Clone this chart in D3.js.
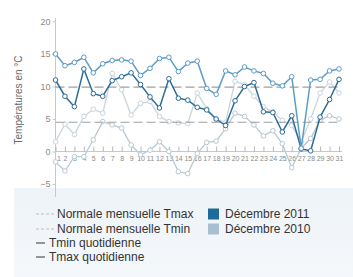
<!DOCTYPE html>
<html lang="fr">
<head>
<meta charset="UTF-8">
<title>Températures décembre</title>
<script src="https://cdn.jsdelivr.net/npm/d3@7"></script>
<style>
  body { margin: 0; background: #fff; }
  text { font-family: "Liberation Sans", Arial, sans-serif; }
</style>
</head>
<body>
<svg width="353" height="277"></svg>
<script>
// jours du mois
var days = d3.range(1, 32);
var yTicks = [-5, 0, 5, 10, 15, 20];

// décembre 2011
var tmax2011 = [15.0, 13.2, 13.7, 14.5, 12.1, 13.5, 14.0, 14.1, 13.9, 11.7, 12.8, 14.3, 14.5, 12.3, 13.6, 13.9,
                9.7, 8.8, 12.4, 11.8, 13.0, 12.4, 12.0, 10.5, 10.1, 11.5, 0.5, 11.0, 11.1, 12.4, 12.7];
var tmin2011 = [11.0, 8.5, 6.9, 12.7, 8.9, 8.5, 10.9, 11.5, 12.1, 10.3, 8.4, 6.7, 11.2, 8.2, 7.9, 6.8,
                6.4, 5.0, 4.0, 7.8, 10.0, 10.6, 6.1, 6.0, 3.0, 5.5, 0.4, 0.1, 5.3, 8.0, 11.1];
// décembre 2010
var tmax2010 = [1.5, 4.2, 2.6, 5.4, 6.5, 5.9, 12.0, 9.5, 5.6, 7.4, 7.7, 5.4, 4.6, 4.4, 4.3, 9.0,
                6.6, 5.0, 4.5, 10.8, 10.3, 8.5, 6.9, 6.1, 4.8, 4.0, 1.5, 5.0, 9.0, 10.7, 9.0];
var tmin2010 = [-1.6, -3.0, -0.8, -0.8, 1.8, 4.6, 4.1, 3.6, 1.0, -0.5, 0.2, 1.5, 0.0, -3.1, -3.4, -0.3,
                1.4, 1.6, 3.5, 5.9, 5.4, 4.1, 2.4, 3.2, 1.2, -2.5, 0.5, 2.0, 4.8, 5.5, 5.0];
// normales mensuelles
var normaleTmax = 9.9;
var normaleTmin = 4.5;

var svg = d3.select('svg');

// fond du bloc légende
var grad = svg.append('defs').append('linearGradient').attr('id', 'fond')
    .attr('x1', 0).attr('y1', 0).attr('x2', 0).attr('y2', 1);
grad.append('stop').attr('offset', '0%').attr('stop-color', '#eef3f7');
grad.append('stop').attr('offset', '100%').attr('stop-color', '#f5f8fb');
svg.append('rect').attr('x', 14).attr('y', 188).attr('width', 339).attr('height', 89)
    .attr('fill', 'url(#fond)');

// échelles
var x = d3.scaleLinear().domain([1, 31]).range([55.5, 339]);
var y = d3.scaleLinear().domain([-5, 20]).range([184, 21.5]);

var g = svg.append('g');

// axe Y
g.append('line').attr('x1', x(1)).attr('x2', x(1))
    .attr('y1', y(20.5)).attr('y2', y(-7))
    .attr('stroke', '#c8c8c8');
var axisY = d3.axisLeft(y).tickValues(yTicks).tickSize(3).tickPadding(2);
var gy = g.append('g').attr('transform', 'translate(' + x(1) + ',0)').call(axisY);
gy.select('.domain').remove();
gy.selectAll('line').attr('stroke', '#c8c8c8');
gy.selectAll('text').attr('fill', '#8a8a8a').style('font-size', '9px');

// axe X sur 0
var axisX = d3.axisBottom(x).tickValues(days).tickSizeInner(-5).tickSizeOuter(0).tickPadding(3);
var gx = g.append('g').attr('transform', 'translate(0,' + y(0) + ')').call(axisX);
gx.select('.domain').attr('stroke', '#c8c8c8').attr('d', 'M' + x(1) + ',0H' + (x(31) + 3));
gx.selectAll('line').attr('stroke', '#b8b8b8');
gx.selectAll('text').attr('fill', '#8a8a8a').style('font-size', '7px')
    .attr('dy', '0.9em').attr('dx', function (d) { return d == 1 ? '3' : '0'; });

// titre Y
svg.append('text')
    .attr('transform', 'translate(22,' + 100 + ') rotate(-90)')
    .attr('text-anchor', 'middle')
    .attr('fill', '#666').style('font-size', '10px')
    .text('Températures en °C');

var line = d3.line().x(function (d, i) { return x(days[i]); }).y(function (d) { return y(d); });

function serie(data, color, w) {
    g.append('path').datum(data).attr('d', line)
        .attr('fill', 'none').attr('stroke', color).attr('stroke-width', w);
    g.selectAll(null).data(data).enter().append('circle')
        .attr('cx', function (d, i) { return x(days[i]); })
        .attr('cy', function (d) { return y(d); })
        .attr('r', 2.3)
        .attr('fill', '#fff').attr('stroke', color).attr('stroke-width', 1);
}

serie(tmax2010, '#c9d5dd', 1.3);
serie(tmin2010, '#b8c9d4', 1.3);

// normales
[normaleTmax, normaleTmin].forEach(function (v) {
    g.append('line').attr('x1', x(1)).attr('x2', x(31))
        .attr('y1', y(v)).attr('y2', y(v))
        .attr('stroke', '#a0a0a0').attr('stroke-width', 1.2)
        .attr('stroke-dasharray', '9,4');
});

serie(tmin2011, '#2c6c99', 1.5);
serie(tmax2011, '#5d9cc6', 1.5);

// légende
var leg = svg.append('g').style('font-size', '12px');
var items = [
    { t: 'Normale mensuelle Tmax', type: 'dash', y: 214 },
    { t: 'Normale mensuelle Tmin', type: 'dash', y: 229 },
    { t: 'Tmin quotidienne', type: 'line', y: 243 },
    { t: 'Tmax quotidienne', type: 'line', y: 257 }
];
items.forEach(function (it) {
    if (it.type == 'dash') {
        leg.append('line').attr('x1', 36).attr('x2', 54).attr('y1', it.y).attr('y2', it.y)
            .attr('stroke', '#bdbdbd').attr('stroke-dasharray', '3,2');
        leg.append('text').attr('x', 57).attr('y', it.y).attr('dy', '0.35em')
            .attr('fill', '#333').text(it.t);
    } else {
        leg.append('line').attr('x1', 36).attr('x2', 45).attr('y1', it.y).attr('y2', it.y)
            .attr('stroke', '#333').attr('stroke-width', 1);
        leg.append('text').attr('x', 49).attr('y', it.y).attr('dy', '0.35em')
            .attr('fill', '#333').text(it.t);
    }
});
var annees = [
    { t: 'Décembre 2011', c: '#1f6a9a', y: 214 },
    { t: 'Décembre 2010', c: '#a7bfcf', y: 229 }
];
annees.forEach(function (a) {
    leg.append('rect').attr('x', 208).attr('y', a.y - 5.5).attr('width', 11).attr('height', 11).attr('fill', a.c);
    leg.append('text').attr('x', 225).attr('y', a.y).attr('dy', '0.35em').attr('fill', '#333').text(a.t);
});
</script>
</body>
</html>
